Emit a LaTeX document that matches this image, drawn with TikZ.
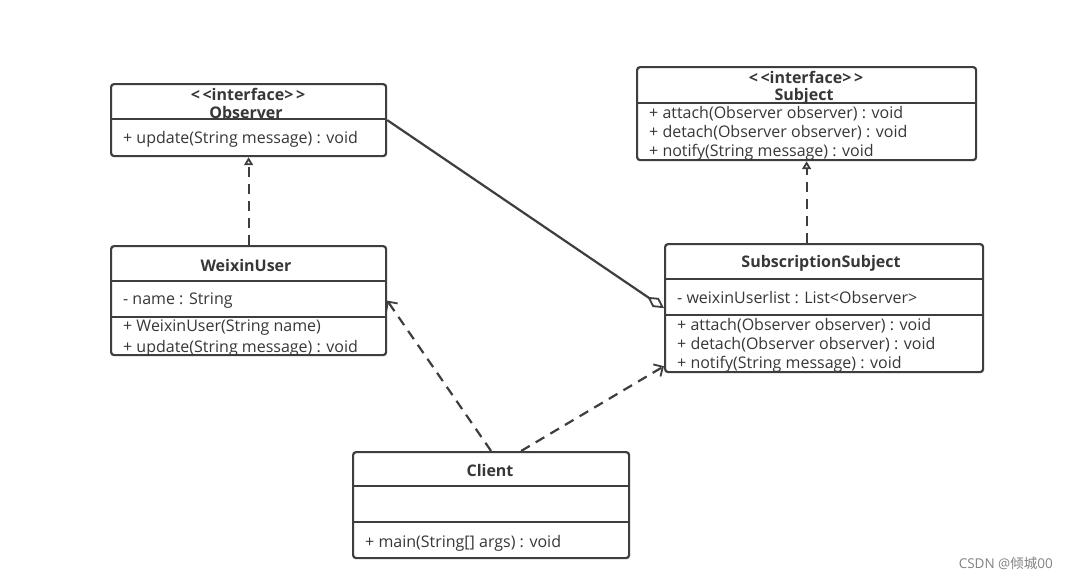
\documentclass[tikz,border=0pt]{standalone}
\usepackage{fontspec}
\setmainfont{Open Sans}
\newfontfamily\cjk{Noto Sans CJK SC}
\usetikzlibrary{arrows.meta}
\definecolor{ln}{RGB}{62,62,62}
\definecolor{tx}{RGB}{55,55,55}
\definecolor{wmc}{RGB}{130,130,130}
\begin{document}
\begin{tikzpicture}[x=1pt,y=-1pt,
  box/.style={draw=ln,line width=2.2pt,rounded corners=3pt,inner sep=0pt,anchor=north west},
  sep/.style={draw=ln,line width=2.2pt},
  txt/.style={anchor=west,inner sep=0pt,font=\fontsize{16}{18}\selectfont,text=tx},
  ttl/.style={anchor=center,inner sep=0pt,font=\fontsize{16}{18}\selectfont\bfseries,text=tx},
  conn/.style={draw=ln,line width=2.2pt},
  dep/.style={conn,dash pattern=on 10pt off 7pt}]
\useasboundingbox[fill=white] (0,0) rectangle (1068,579);
% Observer
\node[box,minimum width=275pt,minimum height=72pt] (obs) at (110,83) {};
\draw[sep] (110,119) -- (385,119);
\node[ttl] (obsS) at (248,94) {\textless\,\textless interface\textgreater\,\textgreater};
\node[ttl] (obsN) at (246,112) {Observer};
\node[txt] (obsM) at (123,139) {+ update(String message) : void};
% Subject
\node[box,minimum width=339pt,minimum height=93pt] (subj) at (636,66) {};
\draw[sep] (636,103) -- (975,103);
\node[ttl] (subjS) at (806,77) {\textless\,\textless interface\textgreater\,\textgreater};
\node[ttl] (subjN) at (804,96) {Subject};
\node[txt] (subjM1) at (649,114) {+ attach(Observer observer) : void};
\node[txt] (subjM2) at (649,133) {+ detach(Observer observer) : void};
\node[txt] (subjM3) at (649,152) {+ notify(String message) : void};
% WeixinUser
\node[box,minimum width=275pt,minimum height=109pt] (wx) at (110,245) {};
\draw[sep] (110,281) -- (385,281);
\draw[sep] (110,317) -- (385,317);
\node[ttl] (wxN) at (246,265) {WeixinUser};
\node[txt] (wxA) at (123,301) {- name : String};
\node[txt] (wxM1) at (123,328) {+ WeixinUser(String name)};
\node[txt] (wxM2) at (123,348) {+ update(String message) : void};
% SubscriptionSubject
\node[box,minimum width=318pt,minimum height=128pt] (subs) at (664,243) {};
\draw[sep] (664,279) -- (982,279);
\draw[sep] (664,315) -- (982,315);
\node[ttl] (subsN) at (821,263) {SubscriptionSubject};
\node[txt] (subsA) at (677,298) {- weixinUserlist : List\textless Observer\textgreater};
\node[txt] (subsM1) at (677,326) {+ attach(Observer observer) : void};
\node[txt] (subsM2) at (677,345) {+ detach(Observer observer) : void};
\node[txt] (subsM3) at (677,364) {+ notify(String message) : void};
% Client
\node[box,minimum width=276pt,minimum height=106pt] (cl) at (352,451) {};
\draw[sep] (352,486) -- (628,486);
\draw[sep] (352,522) -- (628,522);
\node[ttl] (clN) at (490,470) {Client};
\node[txt] (clM) at (365,543) {+ main(String[] args) : void};
% connectors
\draw[dep,-{Triangle[open,length=8pt,width=9pt,line width=1.8pt]}] (wx.north) -- (obs.south);
\draw[dep,-{Triangle[open,length=8pt,width=9pt,line width=1.8pt]}] (subj.south |- subs.north) -- (subj.south);
\draw[conn,-{Diamond[open,length=20pt,width=11pt,line width=1.8pt]}] (obs.east) -- (subs.west);
\draw[dep,-{Straight Barb[length=7pt,width=14pt,line width=1.8pt]}] (cl.north) -- (wx.east);
\draw[dep,-{Straight Barb[length=7pt,width=14pt,line width=1.8pt]}] ([xshift=30pt]cl.north) -- ([yshift=7pt]subs.south west);
% watermark
\node[anchor=east,inner sep=0pt,text=wmc,font=\fontsize{13.5}{15}\selectfont] (wm) at (1053,563) {CSDN @{\cjk 倾城}00};
\end{tikzpicture}
\end{document}
